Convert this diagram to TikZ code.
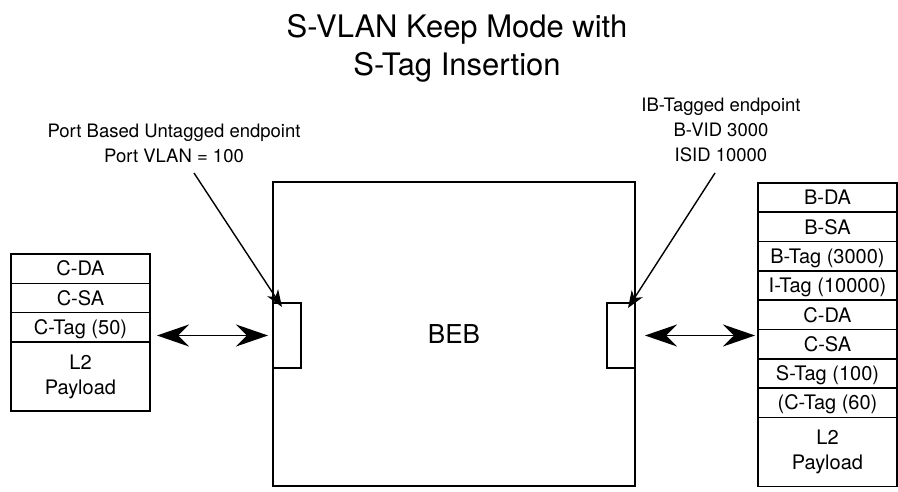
\documentclass[tikz,border=0pt]{standalone}
\usepackage{fontspec}
\setmainfont{TeX Gyre Heros}
\usetikzlibrary{positioning,arrows.meta}

\begin{document}
\begin{tikzpicture}[x=1pt, y=-1pt,
        >={Stealth[length=32pt, width=22pt, inset=11pt]},
        field/.style={draw, line width=1.6pt, outer sep=0pt, minimum width=139pt, minimum height=29.3pt, inner sep=0pt, text height=14.4pt, text depth=0pt, font=\fontsize{20}{25}\selectfont},
        payload/.style={draw, line width=1.6pt, outer sep=0pt, minimum width=139pt, minimum height=69pt, inner sep=0pt, align=center, font=\fontsize{20}{25}\selectfont},
        bridge/.style={draw, line width=1.6pt, outer sep=0pt, minimum width=362pt, minimum height=304pt, inner sep=0pt, font=\fontsize{26}{30}\selectfont},
        port/.style={draw, line width=1.6pt, outer sep=0pt, fill=white, minimum width=28pt, minimum height=65pt, inner sep=0pt},
        endlabel/.style={align=center, inner sep=0pt, font=\fontsize{18.5}{25}\selectfont},
        pointer/.style={->, >={Stealth[length=17pt, width=13pt, inset=5pt]}, line width=1.4pt},
        dblarrow/.style={<->, line width=1.6pt}
    ]
    \useasboundingbox (0,0) rectangle (898,492);

    % ==========================================
    % 1. Title
    % ==========================================
    \node[align=center, font=\fontsize{31}{38}\selectfont] (title) at (457,48) {S-VLAN Keep Mode with\\S-Tag Insertion};

    % ==========================================
    % 2. Customer frame (left)
    % ==========================================
    \node[field, anchor=north west] (lcda) at (11,254) {C-DA};
    \node[field, below=0pt of lcda] (lcsa) {C-SA};
    \node[field, below=0pt of lcsa] (lctag) {C-Tag (50)};
    \node[payload, below=0pt of lctag] (lpay) {L2\\Payload};

    % ==========================================
    % 3. BEB with its two ports
    % ==========================================
    \node[bridge] (beb) at (454,334) {BEB};
    \node[port, anchor=west] (lport) at ([yshift=-1.5pt]beb.west) {};
    \node[port, anchor=east] (rport) at ([yshift=-1.5pt]beb.east) {};

    % ==========================================
    % 4. Backbone frame (right)
    % ==========================================
    \node[field, anchor=north west] (rbda) at (758,183) {B-DA};
    \node[field, below=0pt of rbda] (rbsa) {B-SA};
    \node[field, below=0pt of rbsa] (rbtag) {B-Tag (3000)};
    \node[field, below=0pt of rbtag] (ritag) {I-Tag (10000)};
    \node[field, below=0pt of ritag] (rcda) {C-DA};
    \node[field, below=0pt of rcda] (rcsa) {C-SA};
    \node[field, below=0pt of rcsa] (rstag) {S-Tag (100)};
    \node[field, below=0pt of rstag] (rctag) {(C-Tag (60)};
    \node[payload, below=0pt of rctag] (rpay) {L2\\Payload};

    % ==========================================
    % 5. Endpoint notes and arrows
    % ==========================================
    \node[endlabel] (lnote) at (174,143) {Port Based Untagged endpoint\\Port VLAN = 100};
    \node[endlabel] (rnote) at (721,130) {IB-Tagged endpoint\\B-VID 3000\\ISID 10000};
    \coordinate (lfrom) at (194,173);
    \coordinate (rfrom) at (715,173);

    \draw[pointer] (lfrom) -- ([xshift=9pt, yshift=-4pt]lport.north west);
    \draw[pointer] (rfrom) -- ([xshift=-7pt, yshift=-5pt]rport.north east);

    \draw[dblarrow, shorten <=7pt, shorten >=5pt] (lctag.east |- lport.west) -- (lport.west);
    \draw[dblarrow, shorten <=10pt, shorten >=3pt] (rport.east) -- (rport.east -| rcda.west);
\end{tikzpicture}
\end{document}
